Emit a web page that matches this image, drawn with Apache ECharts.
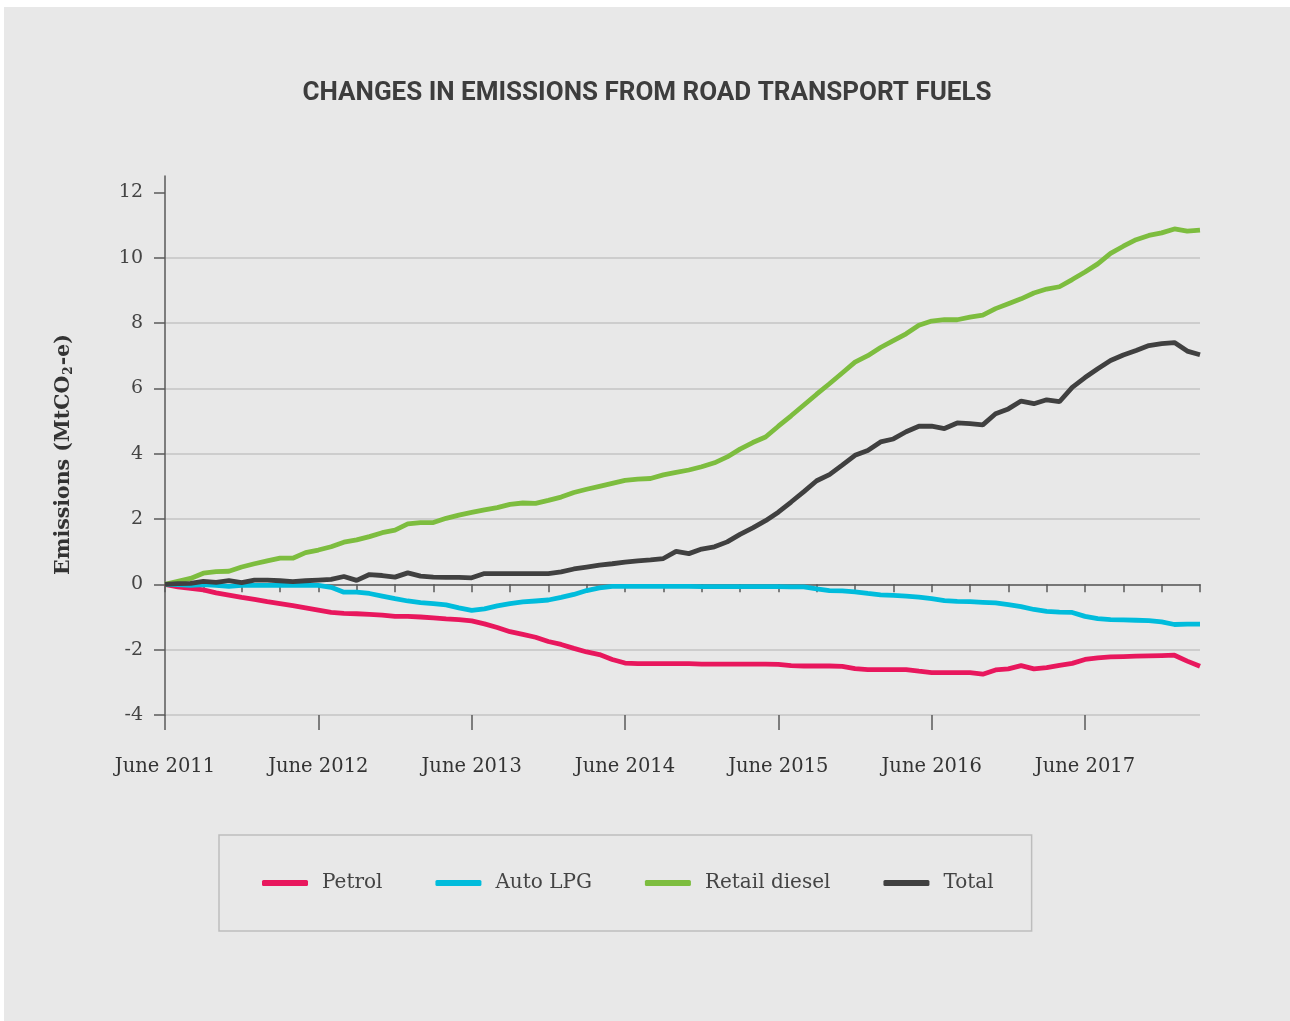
<!DOCTYPE html>
<html>
<head>
<meta charset="utf-8">
<script src="https://cdn.jsdelivr.net/npm/echarts@6/dist/echarts.min.js"></script>
<style>
html,body{margin:0;padding:0;background:#ffffff;width:1290px;height:1021px;overflow:hidden;}
#chart{position:absolute;left:4px;top:7px;width:1286px;height:1014px;}
</style>
</head>
<body>
<div id="chart"></div>
<script>
// Monthly categories June 2011 .. March 2018
var monthNames = ['January','February','March','April','May','June','July','August','September','October','November','December'];
var categories = [];
(function(){
  var y = 2011, m = 5;
  for (var i = 0; i < 82; i++) {
    categories.push(monthNames[m] + ' ' + y);
    m++; if (m > 11) { m = 0; y++; }
  }
})();

var yTicks = [-4, -2, 0, 2, 4, 6, 8, 10, 12];

var petrol = [0,-0.08,-0.12,-0.17,-0.26,-0.33,-0.40,-0.46,-0.53,-0.59,-0.65,-0.72,-0.79,-0.86,-0.89,-0.90,-0.92,-0.94,-0.98,-0.98,-1.00,-1.03,-1.06,-1.08,-1.12,-1.21,-1.32,-1.45,-1.53,-1.62,-1.75,-1.84,-1.96,-2.07,-2.15,-2.30,-2.41,-2.43,-2.43,-2.43,-2.43,-2.43,-2.44,-2.44,-2.44,-2.44,-2.44,-2.44,-2.45,-2.49,-2.50,-2.50,-2.50,-2.51,-2.58,-2.61,-2.61,-2.61,-2.61,-2.66,-2.70,-2.70,-2.70,-2.70,-2.75,-2.62,-2.59,-2.49,-2.59,-2.55,-2.48,-2.42,-2.30,-2.25,-2.22,-2.21,-2.20,-2.19,-2.18,-2.17,-2.35,-2.51];

var autoLPG = [0,-0.01,-0.03,-0.01,-0.03,-0.06,-0.03,-0.03,-0.03,-0.03,-0.03,-0.03,-0.03,-0.09,-0.24,-0.24,-0.28,-0.36,-0.44,-0.51,-0.56,-0.59,-0.63,-0.72,-0.80,-0.75,-0.66,-0.59,-0.54,-0.51,-0.48,-0.40,-0.31,-0.19,-0.11,-0.06,-0.06,-0.06,-0.06,-0.06,-0.06,-0.06,-0.07,-0.07,-0.07,-0.07,-0.07,-0.07,-0.07,-0.08,-0.08,-0.14,-0.19,-0.20,-0.23,-0.28,-0.32,-0.34,-0.36,-0.39,-0.44,-0.50,-0.52,-0.53,-0.55,-0.57,-0.62,-0.68,-0.77,-0.83,-0.85,-0.86,-0.98,-1.05,-1.08,-1.09,-1.10,-1.11,-1.15,-1.23,-1.22,-1.22];

var retailDiesel = [0,0.09,0.18,0.34,0.39,0.40,0.53,0.63,0.72,0.80,0.80,0.97,1.05,1.15,1.29,1.36,1.46,1.58,1.66,1.85,1.89,1.89,2.02,2.12,2.20,2.28,2.35,2.45,2.49,2.48,2.57,2.67,2.81,2.91,3.00,3.09,3.18,3.22,3.24,3.35,3.43,3.50,3.60,3.72,3.90,4.14,4.34,4.51,4.84,5.16,5.49,5.82,6.14,6.47,6.80,7.00,7.25,7.46,7.67,7.93,8.06,8.10,8.10,8.18,8.24,8.44,8.59,8.74,8.92,9.04,9.11,9.33,9.56,9.81,10.13,10.35,10.55,10.68,10.76,10.88,10.81,10.84];

var total = [0,0.02,0.03,0.09,0.06,0.11,0.05,0.13,0.13,0.11,0.08,0.11,0.13,0.15,0.24,0.12,0.30,0.27,0.22,0.35,0.25,0.22,0.21,0.21,0.20,0.33,0.33,0.33,0.33,0.33,0.33,0.38,0.47,0.53,0.59,0.63,0.68,0.72,0.75,0.79,1.01,0.94,1.08,1.15,1.30,1.53,1.73,1.95,2.21,2.52,2.84,3.17,3.36,3.65,3.95,4.10,4.36,4.45,4.67,4.84,4.84,4.77,4.94,4.92,4.88,5.22,5.37,5.61,5.53,5.65,5.59,6.03,6.33,6.60,6.85,7.02,7.16,7.31,7.37,7.40,7.14,7.03];

var seriesNames = ['Petrol', 'Auto LPG', 'Retail diesel', 'Total'];
var seriesColors = ['#e8175d', '#00bcdc', '#7dbd3f', '#404040'];
var seriesData = [petrol, autoLPG, retailDiesel, total];

var slab = "'DejaVu Serif', serif";
var axisColor = '#5a5a5a';

var chart = echarts.init(document.getElementById('chart'));
var option = {
  backgroundColor: '#e8e8e8',
  animation: false,
  title: {
    text: 'CHANGES IN EMISSIONS FROM ROAD TRANSPORT FUELS',
    left: 'center',
    top: 68,
    textStyle: {
      fontFamily: "'Roboto', sans-serif",
      fontWeight: 'bold',
      fontSize: 26,
      color: '#3d3d3d'
    }
  },
  legend: {
    data: seriesNames,
    left: 215,
    top: 828,
    padding: [38, 38, 38, 43],
    borderColor: '#bdbdbd',
    borderWidth: 1.5,
    itemGap: 53,
    itemWidth: 46,
    itemHeight: 6,
    icon: 'roundRect',
    textStyle: {
      fontFamily: slab,
      fontSize: 20,
      color: '#444',
      padding: [0, 0, 0, 9]
    }
  },
  grid: {
    left: 161,
    top: 169,
    width: 1035,
    height: 539,
    containLabel: false
  },
  xAxis: [
    {
      type: 'category',
      data: categories,
      boundaryGap: false,
      position: 'bottom',
      axisLine: { show: true, lineStyle: { color: axisColor, width: 1.5 } },
      axisTick: { show: true, interval: 2, length: 8, lineStyle: { color: axisColor, width: 1.5 } },
      axisLabel: { show: false },
      splitLine: { show: false }
    },
    {
      type: 'category',
      data: categories,
      boundaryGap: false,
      position: 'bottom',
      axisLine: { show: false },
      axisTick: { show: true, interval: 11, length: 15, lineStyle: { color: axisColor, width: 1.5 } },
      axisLabel: {
        interval: 11,
        margin: 42,
        fontFamily: slab,
        fontSize: 19.5,
        color: '#333'
      },
      splitLine: { show: false }
    }
  ],
  yAxis: {
    type: 'value',
    min: -4,
    max: 12.5,
    interval: 2,
    name: 'Emissions (MtCO{sub|2}-e)',
    nameLocation: 'middle',
    nameGap: 90,
    nameRotate: 90,
    nameTextStyle: {
      fontFamily: slab,
      fontWeight: 'bold',
      fontSize: 20.5,
      color: '#333',
      padding: [0, 18, 0, 0],
      rich: {
        sub: { fontFamily: slab, fontWeight: 'bold', fontSize: 12, color: '#333', verticalAlign: 'bottom', padding: [10, 1, 0, 1] }
      }
    },
    axisLine: { show: true, lineStyle: { color: axisColor, width: 1.5 } },
    axisTick: { show: true, length: 11, customValues: yTicks, lineStyle: { color: axisColor, width: 1.5 } },
    axisLabel: {
      customValues: yTicks,
      margin: 22,
      fontFamily: slab,
      fontSize: 19,
      color: '#444'
    },
    splitLine: { show: true, showMaxLine: false, lineStyle: { color: '#c4c4c4', width: 1.5 } }
  },
  series: seriesNames.map(function (n, i) {
    return {
      name: n,
      type: 'line',
      xAxisIndex: 0,
      data: seriesData[i],
      symbol: 'none',
      showSymbol: false,
      lineStyle: { color: seriesColors[i], width: 4.8 },
      itemStyle: { color: seriesColors[i] },
      z: i === 3 ? 3 : 2
    };
  })
};
chart.setOption(option);
</script>
</body>
</html>
